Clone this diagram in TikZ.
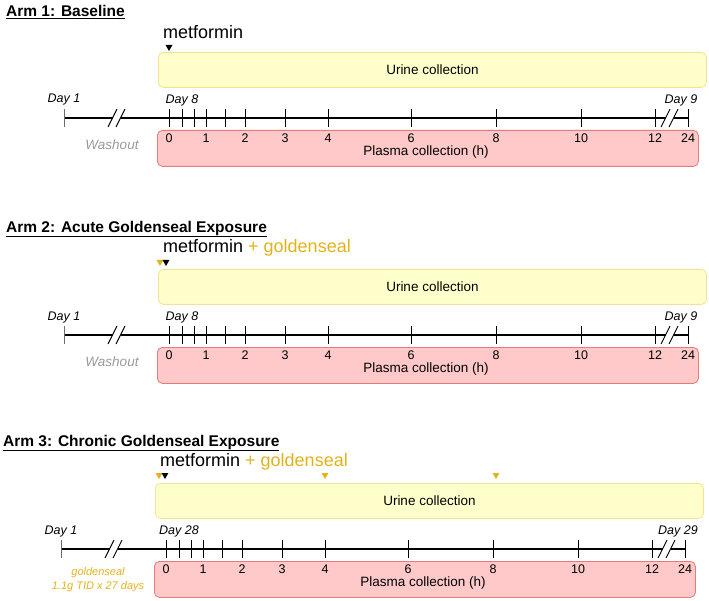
\documentclass[tikz,border=0pt]{standalone}
\usepackage{fontspec}
\setmainfont{Liberation Sans}
\usetikzlibrary{shapes.geometric}
\begin{document}
\begin{tikzpicture}[x=1pt,y=-1pt,
  ybox/.style={draw=yellow!60!brown!50,fill=yellowfill,rounded corners=5pt,line width=0.8pt},
  rbox/.style={draw=redline,fill=redfill,rounded corners=5pt,line width=0.8pt},
  title/.style={font=\bfseries\fontsize{15.5}{18}\selectfont,anchor=west,inner sep=0},
  day/.style={font=\itshape\fontsize{12.5}{14}\selectfont,inner sep=0},
  num/.style={font=\fontsize{12.5}{14}\selectfont,inner sep=0},
  tickm/.style={line width=0.9pt},
  axis/.style={line width=1.4pt},
  tri/.style={isosceles triangle,isosceles triangle apex angle=60,shape border rotate=-90,inner sep=0,minimum size=6pt,draw=none}]
\definecolor{yellowfill}{HTML}{FFFFCC}
\definecolor{redfill}{HTML}{FFC9C9}
\definecolor{redline}{HTML}{E57A7A}
\definecolor{gold}{HTML}{E3B21B}
\definecolor{ggray}{HTML}{9A9A9A}
\useasboundingbox (0,0) rectangle (709,601);
\newcommand\armdraw[6]{% #1 id, #2 shift x, #3 shift y, #4 title, #5 day0, #6 day1
\begin{scope}[shift={(#2,#3)}]
\node[title] (t#1) at (6,-106) {\underline{#4}};
\node[ybox,minimum width=548,minimum height=35,anchor=north west] (u#1) at (158,-66) {};
\node[font=\fontsize{13.5}{15}\selectfont] at (u#1.center) {Urine collection};
\node[rbox,minimum width=541,minimum height=36,anchor=north west] (p#1) at (157,12) {};
\node[font=\fontsize{13.5}{15}\selectfont] (pl#1) at (426,34) {Plasma collection (h)};
\coordinate (s#1) at (64,0);
\coordinate (e#1) at (688,0);
\draw[axis] (s#1) -- (113,0) (121,0) -- (666,0) (674,0) -- (e#1);
\draw[line width=0.9pt] (108,9) -- (117,-9) (116,9) -- (125,-9) (661,9) -- (670,-9) (669,9) -- (678,-9);
\draw[tickm,ggray!70!black] (s#1) ++(0,-9) -- ++(0,18);
\draw[tickm] (e#1) ++(0,-9) -- ++(0,18);
\foreach \x in {169,182,194,206,225,245,285,328,411,496,581,655} \draw[tickm] (\x,-9) -- (\x,9);
\foreach \x/\l in {169/0,206/1,245/2,285/3,328/4,411/6,496/8,581/10,655/12,688/24} \node[num] at (\x,20) {\l};
\node[day] (d1#1) at (64,-18) {Day 1};
\node[day] (da#1) at (182,-18) {Day #5};
\node[day] (db#1) at (681,-18) {Day #6};
\end{scope}}
\armdraw{1}{0}{118}{Arm 1: Baseline}{8}{9}
\armdraw{2}{0}{335}{Arm 2: Acute Goldenseal Exposure}{8}{9}
\armdraw{3}{-3}{549}{Arm 3: Chronic Goldenseal Exposure}{28}{29}
% arm 1
\node[font=\fontsize{18}{20}\selectfont,anchor=west,inner sep=0] (m1) at (163,32) {metformin};
\node[tri,fill=black] (k1) at (169,47) {};
\node[day,text=ggray,font=\itshape\fontsize{13.5}{15}\selectfont] (w1) at (112,145) {Washout};
% arm 2
\node[font=\fontsize{18}{20}\selectfont,anchor=west,inner sep=0] (m2) at (163,248) {metformin \textcolor{gold}{+ goldenseal}};
\node[tri,fill=gold] (g2) at (160,262) {};
\node[tri,fill=black] (k2) at (166,262) {};
\node[day,text=ggray,font=\itshape\fontsize{13.5}{15}\selectfont] (w2) at (112,362) {Washout};
% arm 3
\node[font=\fontsize{18}{20}\selectfont,anchor=west,inner sep=0] (m3) at (160,462) {metformin \textcolor{gold}{+ goldenseal}};
\node[tri,fill=gold] (g3) at (159,475) {};
\node[tri,fill=black] (k3) at (165,475) {};
\node[tri,fill=gold] (g3b) at (325,475) {};
\node[tri,fill=gold] (g3c) at (496,475) {};
\node[text=gold,font=\itshape\fontsize{11}{14}\selectfont,align=center] (w3) at (98,580) {goldenseal\\1.1g TID x 27 days};
\end{tikzpicture}
\end{document}
